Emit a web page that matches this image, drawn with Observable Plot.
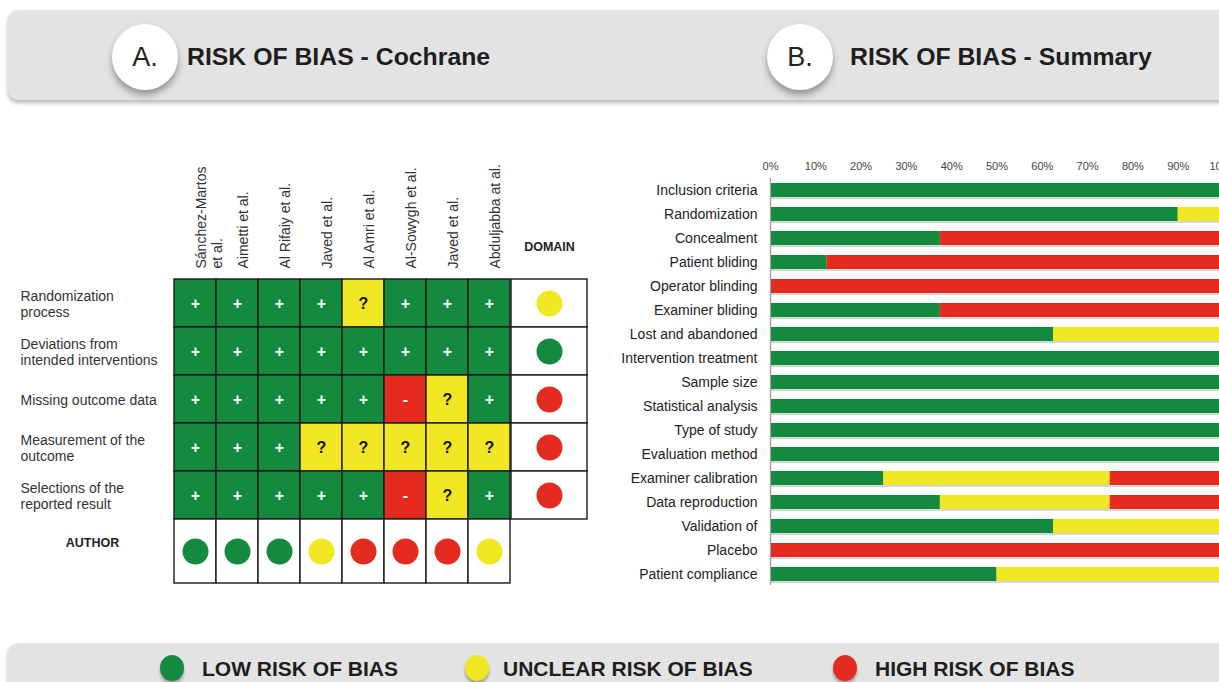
<!DOCTYPE html>
<html><head><meta charset="utf-8">
<script src="https://cdn.jsdelivr.net/npm/d3@7"></script>
<script src="https://cdn.jsdelivr.net/npm/@observablehq/plot@0.6"></script>
<style>
html,body{margin:0;padding:0;background:#fff;}
body{width:1219px;height:682px;overflow:hidden;position:relative;font-family:"Liberation Sans",Arial,Helvetica,sans-serif;color:#1e1e1e;}
.banner{position:absolute;left:8px;width:1240px;background:#e3e3e3;border-radius:10px;box-shadow:0 3px 4px rgba(0,0,0,.28);}
.badge{position:absolute;width:66px;height:66px;border-radius:50%;background:#fff;box-shadow:0 5px 7px rgba(0,0,0,.35);text-align:center;line-height:66px;font-size:27px;color:#222;}
.title{position:absolute;font-weight:bold;font-size:24.8px;line-height:28px;color:#1e1e1e;white-space:nowrap;}
.sw{position:absolute;width:24px;height:26px;border-radius:50%;box-shadow:0 3px 3px rgba(0,0,0,.3);}
.lg{position:absolute;font-weight:bold;font-size:21px;line-height:26px;white-space:nowrap;color:#1e1e1e;}
g[aria-label="riskdot"]{filter:url(#ds);}
g[aria-label="barshadow"]{filter:blur(1px);}
</style></head><body>
<svg width="0" height="0" style="position:absolute"><defs><filter id="ds" x="-50%" y="-50%" width="200%" height="200%"><feDropShadow dx="1" dy="3" stdDeviation="1.5" flood-color="#334" flood-opacity="0.35"/></filter></defs></svg>

<div class="banner" style="top:10px;height:90px;"></div>
<div class="badge" style="left:112px;top:24px;">A.</div>
<div class="title" style="left:187px;top:43px;">RISK OF BIAS - Cochrane</div>
<div class="badge" style="left:767px;top:24px;">B.</div>
<div class="title" style="left:850px;top:43px;">RISK OF BIAS - Summary</div>

<div class="banner" style="top:643px;height:60px;"></div>
<div id="legend"></div>

<script>
// ---------- DATA ----------
const studies = ["Sánchez-Martos\net al.", "Aimetti et al.", "Al Rifaiy et al.", "Javed et al.", "Al Amri et al.", "Al-Sowygh et al.", "Javed et al.", "Abduljabba at al."];
const domainRows = ["Randomization\nprocess", "Deviations from\nintended interventions", "Missing outcome data", "Measurement of the\noutcome", "Selections of the\nreported result"];
// "+" low risk, "?" unclear risk, "-" high risk
const judgments = [
  ["+","+","+","+","?","+","+","+"],
  ["+","+","+","+","+","+","+","+"],
  ["+","+","+","+","+","-","?","+"],
  ["+","+","+","?","?","?","?","?"],
  ["+","+","+","+","+","-","?","+"]
];
const domainOverall = ["?","+","-","-","-"];
const authorOverall = ["+","+","+","?","-","-","-","?"];

const summaryItems = ["Inclusion criteria","Randomization","Concealment","Patient bliding","Operator blinding","Examiner bliding","Lost and abandoned","Intervention treatment","Sample size","Statistical analysis","Type of study","Evaluation method","Examiner calibration","Data reproduction","Validation of","Placebo","Patient compliance"];
const lowPct     = [100, 90, 37.5, 12.5,   0, 37.5, 62.5, 100, 100, 100, 100, 100, 25, 37.5, 62.5,   0, 50];
const unclearPct = [  0, 10,    0,    0,   0,    0, 37.5,   0,   0,   0,   0,   0, 50, 37.5, 37.5,   0, 50];
const highPct    = [  0,  0, 62.5, 87.5, 100, 62.5,    0,   0,   0,   0,   0,   0, 25, 25,     0, 100,  0];
const xTicks = [0,10,20,30,40,50,60,70,80,90,100];

const riskKeys = ["+","?","-"];
const riskLabels = ["LOW RISK OF BIAS","UNCLEAR RISK OF BIAS","HIGH RISK OF BIAS"];
const riskColors = ["#148a3f","#f1e722","#e52a20"];

// ---------- BUILD ----------
const idx = d3.range(studies.length);
const cells = judgments.flatMap((row,i)=>row.map((v,j)=>({s:j, d:domainRows[i], v})));
const colorScale = {domain: riskKeys, range: riskColors};
const pos = (l,t)=>`position:absolute;left:${l}px;top:${t}px;background:none;overflow:visible;max-width:none;font-family:'Liberation Sans',Arial,sans-serif;`;
const lineC = "#1b1b1b";

const grid = Plot.plot({
  width: 513, height: 370, marginLeft: 172, marginTop: 128, marginRight: 2, marginBottom: 1,
  x: {type: "band", domain: idx, padding: 0, axis: null},
  y: {type: "band", domain: domainRows, padding: 0, axis: null},
  color: colorScale,
  style: pos(0,150),
  marks: [
    Plot.cell(cells, {x: "s", y: "d", fill: "v", stroke: lineC, strokeWidth: 1.4, inset: 0}),
    Plot.text(cells.filter(c=>c.v!=="?"), {x: "s", y: "d", text: "v", fill: "white", fontWeight: "bold", fontSize: 16}),
    Plot.text(cells.filter(c=>c.v==="?"), {x: "s", y: "d", text: "v", fill: "#111", fontWeight: "bold", fontSize: 16}),
    Plot.text(idx, {x: d=>d, text: d=>studies[d], frameAnchor: "top", rotate: -90, textAnchor: "start", dy: -10, fontSize: 14, fill: "#333", lineHeight: 1.1}),
    Plot.text(domainRows, {y: d=>d, text: d=>d, frameAnchor: "left", textAnchor: "start", dx: -152, fontSize: 14, fill: "#333", lineHeight: 1.15})
  ]
});
document.body.appendChild(grid);

const domainPlot = Plot.plot({
  width: 78, height: 370, marginLeft: 1, marginRight: 1, marginTop: 128, marginBottom: 1,
  x: {type: "band", domain: ["DOMAIN"], padding: 0, axis: null},
  y: {type: "band", domain: domainRows, padding: 0, axis: null},
  color: colorScale,
  style: pos(510,150),
  marks: [
    Plot.cell(domainRows, {x: ()=>"DOMAIN", y: d=>d, fill: "white", stroke: lineC, strokeWidth: 1.4, inset: 0}),
    Plot.dot(domainRows, {x: ()=>"DOMAIN", y: d=>d, r: 13, fill: (d,i)=>domainOverall[i], ariaLabel: "riskdot"}),
    Plot.text(["DOMAIN"], {frameAnchor: "top", dy: -36, text: d=>d, fontWeight: "bold", fontSize: 12.5, fill: "#222"})
  ]
});
document.body.appendChild(domainPlot);

const authorPlot = Plot.plot({
  width: 513, height: 66, marginLeft: 172, marginRight: 2, marginTop: 1, marginBottom: 1,
  x: {type: "band", domain: idx, padding: 0, axis: null},
  color: colorScale,
  style: pos(0,518),
  marks: [
    Plot.cell(idx, {x: d=>d, fill: "white", stroke: lineC, strokeWidth: 1.4, inset: 0}),
    Plot.dot(idx, {x: d=>d, r: 13, fill: d=>authorOverall[d], ariaLabel: "riskdot"}),
    Plot.text(["AUTHOR"], {frameAnchor: "left", textAnchor: "middle", dx: -80, dy: -9, text: d=>d, fontWeight: "bold", fontSize: 12.5, fill: "#222"})
  ]
});
document.body.appendChild(authorPlot);

const summary = summaryItems.flatMap((it,i)=>[
  {item: it, risk: "+", pct: lowPct[i]},
  {item: it, risk: "?", pct: unclearPct[i]},
  {item: it, risk: "-", pct: highPct[i]}
]).filter(d=>d.pct>0);

const bars = Plot.plot({
  width: 640, height: 439, marginLeft: 170, marginRight: 17, marginTop: 24, marginBottom: 0,
  x: {domain: [0,100]},
  y: {domain: summaryItems, paddingInner: 0.42, paddingOuter: 0.21},
  color: colorScale,
  style: pos(600,150),
  marks: [
    Plot.axisX({anchor: "top", ticks: xTicks, tickFormat: d=>d+"%", tickSize: 0, tickPadding: 5, fontSize: 11, fill: "#444", label: null}),
    Plot.axisY({anchor: "left", tickSize: 0, tickPadding: 13, fontSize: 14, fill: "#222", label: null}),
    Plot.barX(summaryItems, {x: ()=>100, y: d=>d, fill: "#000", fillOpacity: 0.16, dy: 2, ariaLabel: "barshadow"}),
    Plot.barX(summary, Plot.stackX({x: "pct", y: "item", fill: "risk"})),
    Plot.ruleX([0], {stroke: "#a0a0a0", strokeWidth: 1.2, insetTop: 4, insetBottom: 4})
  ]
});
document.body.appendChild(bars);

// legend
const legend = document.getElementById("legend");
const swX = [172, 477, 845], txX = [202, 503, 875];
riskKeys.forEach((k,i)=>{
  const s = document.createElement("div");
  s.className = "sw"; s.style.left = (swX[i]-12)+"px"; s.style.top = "655px"; s.style.background = riskColors[i];
  legend.appendChild(s);
  const t = document.createElement("div");
  t.className = "lg"; t.style.left = txX[i]+"px"; t.style.top = "656px"; t.textContent = riskLabels[i];
  legend.appendChild(t);
});
</script>
</body></html>
